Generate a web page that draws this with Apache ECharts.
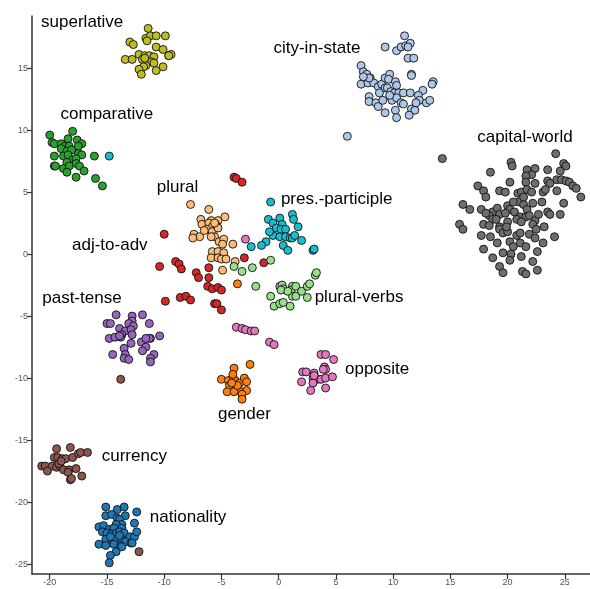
<!DOCTYPE html>
<html>
<head>
<meta charset="utf-8">
<script src="https://cdn.jsdelivr.net/npm/echarts@6/dist/echarts.min.js"></script>
<style>
  html, body { margin: 0; padding: 0; background: #fff; }
  #chart { width: 590px; height: 589px; }
</style>
</head>
<body>
<div id="chart"></div>
<script>
/* global echarts */

const xTicks = [-20, -15, -10, -5, 0, 5, 10, 15, 20, 25];
const yTicks = [-25, -20, -15, -10, -5, 0, 5, 10, 15];

const superlative = [
  [-11.4, 18.2], [-11.6, 17.4], [-11.2, 17.6], [-10.7, 17.6], [-9.9, 17.6], [-13.0, 17.1],
  [-12.7, 16.9], [-11.5, 17.2], [-10.7, 16.7], [-10.1, 16.5], [-12.2, 16.1], [-11.7, 16.0],
  [-11.3, 16.0], [-10.9, 15.9], [-9.6, 16.0], [-9.4, 16.1], [-13.4, 15.7], [-12.8, 15.7],
  [-11.9, 15.7], [-11.1, 15.5], [-10.9, 15.4], [-11.6, 15.2], [-11.8, 15.1], [-12.2, 14.9],
  [-12.0, 14.5], [-10.7, 14.8], [-10.1, 15.1], [-9.6, 16.0], [-11.7, 15.8],
];

const comparative = [
  [-20.0, 9.6], [-18.0, 9.9], [-19.8, 9.0], [-19.6, 8.9], [-19.0, 8.9], [-18.4, 9.3],
  [-17.6, 9.2], [-17.2, 8.9], [-18.7, 8.7], [-18.3, 8.7], [-19.0, 8.5], [-18.5, 8.3],
  [-18.1, 8.4], [-17.5, 8.7], [-19.6, 7.9], [-18.8, 7.9], [-18.4, 8.0], [-17.5, 8.1],
  [-17.2, 8.0], [-16.1, 7.9], [-18.0, 7.6], [-18.5, 7.4], [-17.7, 7.7], [-17.7, 7.3],
  [-19.6, 7.1], [-19.5, 7.1], [-18.8, 6.9], [-18.3, 7.1], [-17.4, 7.1], [-17.0, 6.7],
  [-18.5, 6.6], [-17.7, 6.2], [-16.0, 6.1], [-15.4, 5.5],
];

const cityInState = [
  [11.0, 17.6], [9.3, 16.7], [10.3, 16.4], [10.7, 16.7], [11.1, 16.8], [11.5, 17.0],
  [11.3, 16.7], [11.3, 15.8], [11.8, 15.8], [7.2, 15.2], [7.4, 14.7], [7.7, 14.5],
  [8.0, 14.2], [7.5, 14.0], [7.2, 13.7], [7.8, 13.8], [8.3, 13.8], [8.7, 13.5],
  [9.0, 13.7], [9.3, 14.2], [9.7, 14.5], [9.6, 14.1], [10.2, 13.9], [10.3, 13.6],
  [9.3, 13.4], [9.5, 13.4], [8.8, 13.0], [9.8, 13.1], [10.1, 13.0], [10.5, 13.0],
  [10.9, 13.0], [11.5, 13.0], [11.6, 14.5], [11.6, 14.4], [12.6, 13.2], [12.2, 12.8],
  [13.5, 13.9], [13.4, 13.7], [7.9, 12.7], [7.9, 12.3], [8.5, 12.2], [8.7, 11.9],
  [9.1, 12.4], [9.8, 12.7], [9.9, 12.4], [10.3, 12.6], [10.7, 12.2], [10.9, 12.1],
  [11.6, 11.7], [11.9, 11.6], [11.4, 11.2], [9.3, 11.4], [10.2, 11.6], [10.3, 11.0],
  [12.3, 12.4], [12.9, 12.2], [13.2, 12.4], [12.0, 12.2], [6.0, 9.5], [9.7, 12.8],
  [7.9, 14.2], [7.4, 14.3],
];

const capitalWorld = [
  [14.3, 7.7], [24.2, 8.1], [24.9, 7.3], [25.1, 7.1], [20.3, 7.4], [20.4, 7.1],
  [21.7, 6.8], [22.4, 6.9], [23.5, 6.8], [24.6, 6.7], [18.5, 6.6], [22.1, 6.4],
  [21.6, 6.3], [24.3, 6.0], [24.7, 6.0], [25.1, 5.9], [23.5, 5.9], [20.2, 5.8],
  [21.6, 5.8], [22.4, 5.7], [23.7, 5.7], [25.4, 5.8], [25.7, 5.5], [26.0, 5.3],
  [26.4, 4.6], [17.4, 5.5], [17.9, 5.1], [18.1, 4.6], [19.3, 5.1], [19.8, 5.0],
  [20.9, 4.9], [21.2, 5.0], [21.7, 5.2], [22.1, 5.0], [23.1, 5.0], [23.3, 5.2],
  [24.3, 5.1], [24.9, 4.1], [16.1, 4.0], [16.7, 3.6], [17.7, 3.6], [18.7, 3.4],
  [19.1, 3.7], [20.0, 3.9], [20.2, 3.6], [21.0, 4.2], [21.4, 4.0], [21.7, 3.6],
  [22.2, 4.1], [23.0, 4.2], [23.5, 3.4], [23.7, 3.2], [24.6, 3.2], [18.4, 3.1],
  [18.7, 2.8], [19.3, 3.2], [19.8, 3.3], [20.6, 3.4], [21.1, 3.0], [21.6, 3.0],
  [21.9, 3.1], [22.4, 2.7], [22.7, 3.2], [15.8, 2.4], [16.1, 2.0], [17.9, 2.4],
  [18.4, 2.3], [19.3, 2.2], [20.0, 2.6], [20.8, 2.8], [21.2, 2.6], [22.2, 2.4],
  [23.2, 2.2], [17.7, 1.5], [18.5, 1.4], [19.3, 2.0], [19.6, 1.7], [20.0, 1.8],
  [20.8, 1.5], [21.1, 1.7], [21.9, 1.6], [22.4, 1.3], [24.1, 1.4], [19.1, 0.9],
  [20.2, 1.0], [20.5, 0.6], [21.1, 0.9], [21.6, 0.6], [22.6, 0.2], [23.1, 0.9],
  [17.9, 0.4], [19.6, 0.1], [20.3, 0.0], [21.2, -0.2], [22.2, -0.6], [18.7, -0.3],
  [19.3, -1.0], [20.2, -0.5], [19.6, -1.5], [21.3, -1.4], [21.6, -1.6], [22.6, -1.3],
  [18.1, 3.3], [21.4, 4.6], [20.5, 4.2], [22.5, 2.0], [19.0, 2.8], [19.9, 2.2],
];

const plural = [
  [-7.7, 4.0], [-6.1, 3.6], [-6.8, 2.8], [-5.9, 2.7], [-5.3, 2.7], [-4.7, 3.0],
  [-6.7, 2.4], [-6.1, 2.5], [-5.8, 2.2], [-5.5, 2.4], [-6.3, 2.0], [-5.8, 1.8],
  [-5.3, 2.1], [-5.6, 1.4], [-7.4, 1.6], [-6.9, 1.4], [-7.5, 1.3], [-5.9, 1.4],
  [-5.2, 1.0], [-4.8, 1.2], [-4.9, 0.8], [-5.8, 0.2], [-5.3, 0.2], [-4.8, 0.1],
  [-5.9, -0.3], [-5.3, -0.3], [-5.0, -0.4], [-4.6, -0.4], [-4.0, 0.8], [-3.8, -0.6],
  [-4.9, -1.3], [-6.5, 1.9], [-5.6, 2.5],
];

const presParticiple = [
  [-0.7, 4.2], [-0.9, 2.8], [0.1, 2.9], [1.2, 3.2], [1.3, 2.8], [-0.5, 2.5],
  [0.3, 2.4], [1.7, 2.2], [-0.2, 2.1], [0.2, 2.0], [0.6, 2.0], [-0.5, 1.5],
  [0.1, 1.4], [0.6, 1.4], [1.0, 1.3], [1.2, 1.3], [1.4, 1.5], [2.0, 1.1],
  [-1.1, 1.0], [-1.5, 0.7], [-2.4, 0.6], [0.4, 0.7], [0.8, 0.3], [3.0, 0.3],
  [3.1, 0.4], [-0.8, 1.8], [-14.8, 7.9],
];

const adjToAdv = [
  [-3.9, 6.2], [-3.7, 6.1], [-3.2, 5.8], [-10.0, 1.6], [-9.0, -0.6], [-8.7, -0.8],
  [-8.5, -1.2], [-10.4, -1.0], [-7.2, -1.5], [-7.0, -1.9], [-6.1, -1.1], [-6.1, -1.9],
  [-6.2, -2.6], [-5.8, -2.8], [-5.3, -2.7], [-5.0, -2.9], [-3.0, -0.3], [-1.3, -0.7],
  [-8.6, -3.5], [-8.1, -3.4], [-7.7, -3.7], [-9.9, -3.8], [-5.6, -4.0], [-5.4, -4.0],
  [-5.0, -4.5],
];

const pluralVerbs = [
  [-0.7, -0.5], [-3.9, -1.0], [-3.2, -1.4], [-2.3, -1.1], [-2.0, -2.6], [0.1, -2.6],
  [0.3, -2.5], [0.4, -2.8], [1.2, -2.6], [1.1, -2.9], [1.5, -2.6], [1.2, -3.4],
  [1.5, -3.4], [2.0, -3.0], [2.5, -3.5], [2.5, -2.6], [2.7, -2.4], [3.2, -1.7],
  [3.3, -1.5], [-0.7, -3.4], [-0.4, -4.2], [0.1, -4.0], [0.4, -3.9], [1.0, -4.2],
  [0.2, -2.9], [0.8, -3.0],
];

const pastTense = [
  [-14.2, -4.9], [-12.8, -5.0], [-11.9, -4.9], [-15.0, -5.6], [-14.7, -5.6], [-12.8, -5.4],
  [-13.1, -5.6], [-12.7, -5.8], [-11.3, -5.6], [-13.9, -6.0], [-13.4, -6.2], [-12.9, -6.1],
  [-13.7, -6.5], [-14.8, -6.8], [-14.3, -6.7], [-13.8, -6.7], [-12.8, -6.5], [-10.4, -6.6],
  [-11.2, -6.8], [-11.3, -6.8], [-12.0, -7.1], [-12.9, -7.2], [-13.5, -7.6], [-11.6, -7.5],
  [-11.9, -7.8], [-10.9, -8.1], [-14.5, -8.1], [-13.4, -8.1], [-13.5, -8.4], [-13.1, -8.5],
  [-11.2, -8.4], [-11.2, -8.7], [-13.9, -6.6], [-11.6, -6.8],
];

const opposite = [
  [-2.9, 1.2], [-3.7, -5.9], [-3.2, -6.0], [-2.9, -6.1], [-2.4, -6.2], [-2.1, -6.2],
  [-0.8, -7.1], [-0.4, -7.3], [3.7, -8.1], [4.1, -8.1], [4.8, -8.5], [4.0, -9.1],
  [4.1, -9.3], [2.1, -9.5], [2.4, -9.5], [3.1, -9.6], [3.0, -10.0], [3.4, -10.1],
  [3.7, -10.1], [4.1, -10.0], [4.7, -9.9], [2.0, -10.3], [3.0, -10.4], [4.1, -10.8],
  [2.8, -11.0], [3.9, -9.3], [3.1, -9.8],
];

const gender = [
  [-3.6, -2.4], [-2.5, -8.9], [-3.9, -9.2], [-5.0, -10.1], [-4.4, -10.2], [-4.0, -9.9],
  [-3.8, -10.2], [-3.4, -10.4], [-3.0, -10.0], [-2.8, -10.3], [-4.3, -10.6], [-3.7, -10.7],
  [-3.3, -11.1], [-2.8, -11.0], [-4.5, -11.1], [-3.9, -11.1], [-3.2, -11.3], [-3.2, -11.7],
  [-4.0, -9.7], [-3.6, -10.6], [-4.1, -10.4],
];

const currency = [
  [-19.4, -15.7], [-18.2, -15.6], [-19.6, -16.4], [-19.3, -16.4], [-18.9, -16.5], [-18.6, -16.5],
  [-18.0, -16.4], [-17.5, -16.1], [-17.3, -16.0], [-16.7, -16.0], [-20.7, -17.1], [-20.4, -17.1],
  [-19.8, -17.1], [-19.4, -17.2], [-19.1, -17.1], [-18.8, -17.4], [-18.3, -17.4], [-18.4, -17.6],
  [-17.7, -17.3], [-20.2, -17.5], [-19.2, -16.9], [-19.0, -16.7], [-18.2, -18.2], [-18.1, -18.1],
  [-17.2, -17.9], [-13.8, -10.1], [-12.2, -24.0],
];

const nationality = [
  [-15.1, -20.4], [-14.1, -20.6], [-13.5, -20.4], [-15.1, -21.1], [-14.6, -21.0], [-13.4, -21.1],
  [-12.4, -20.8], [-14.1, -21.3], [-13.9, -21.4], [-13.7, -21.8], [-14.2, -21.8], [-15.7, -22.0],
  [-15.3, -21.9], [-14.8, -22.2], [-14.4, -22.1], [-13.7, -22.1], [-12.6, -21.7], [-15.4, -22.4],
  [-15.0, -22.5], [-14.6, -22.6], [-14.2, -22.5], [-13.9, -22.4], [-13.5, -22.5], [-13.0, -22.8],
  [-12.6, -22.8], [-12.4, -22.4], [-15.1, -23.0], [-14.5, -23.2], [-14.2, -23.0], [-13.7, -23.0],
  [-13.4, -23.2], [-12.9, -23.3], [-15.7, -23.4], [-15.1, -23.5], [-14.4, -23.4], [-13.8, -23.5],
  [-12.8, -23.3], [-14.2, -24.0], [-14.7, -24.3], [-14.8, -24.9], [-13.7, -23.6], [-13.9, -22.7],
  [-14.7, -22.8],
];

const groupNames = [
  'superlative', 'comparative', 'city-in-state', 'capital-world', 'plural', 'pres.-participle',
  'adj-to-adv', 'plural-verbs', 'past-tense', 'opposite', 'gender', 'currency', 'nationality',
];
const groupData = [
  superlative, comparative, cityInState, capitalWorld, plural, presParticiple,
  adjToAdv, pluralVerbs, pastTense, opposite, gender, currency, nationality,
];
const groupColors = [
  '#bcbd22', '#2ca02c', '#aec7e8', '#6e6e6e', '#ffbb78', '#17becf',
  '#d62728', '#98df8a', '#9467bd', '#e377c2', '#ff7f0e', '#8c564b', '#1f77b4',
];

// where each group name is written (x, y of the text's left-middle point)
const labelNames = groupNames;
const labelX = [-20.8, -19.1, -0.5, 17.3, -10.7, 0.15, -18.1, 3.1, -20.7, 5.75, -5.35, -15.5, -11.3];
const labelY = [18.7, 11.3, 16.6, 9.4, 5.4, 4.4, 0.7, -3.5, -3.6, -9.3, -12.9, -16.3, -21.2];

const chart = echarts.init(document.getElementById('chart'));

const series = groupData.map((pts, i) => ({
  name: groupNames[i],
  type: 'scatter',
  data: pts,
  symbolSize: 8,
  itemStyle: {
    color: groupColors[i],
    borderColor: '#111',
    borderWidth: 0.9,
    opacity: 1,
  },
  z: 3,
}));

series.push({
  name: 'labels',
  type: 'scatter',
  symbol: 'circle',
  symbolSize: 1,
  silent: true,
  z: 5,
  itemStyle: { color: 'rgba(0,0,0,0)' },
  data: labelNames.map((n, i) => ({ name: n, value: [labelX[i], labelY[i]] })),
  label: {
    show: true,
    position: 'right',
    distance: 0,
    formatter: (p) => p.name,
    fontFamily: 'Liberation Sans, Arial, sans-serif',
    fontSize: 17,
    color: '#000',
    opacity: 1,
  },
  labelLayout: { hideOverlap: false },
});

const axisCommon = {
  type: 'value',
  splitLine: { show: false },
  axisLine: { show: true, onZero: false, lineStyle: { color: '#333', width: 1.5 } },
  axisTick: { show: true, inside: false, length: 5, lineStyle: { color: '#333', width: 1.2 } },
  axisLabel: {
    color: '#555',
    fontSize: 9,
    fontFamily: 'Liberation Sans, Arial, sans-serif',
    margin: 4,
  },
};

chart.setOption({
  animation: false,
  backgroundColor: '#fff',
  grid: { left: 32, right: 0, top: 16, bottom: 15 },
  xAxis: {
    ...axisCommon,
    min: -21.55,
    max: 27.2,
    axisTick: { ...axisCommon.axisTick, customValues: xTicks },
    axisLabel: { ...axisCommon.axisLabel, customValues: xTicks },
  },
  yAxis: {
    ...axisCommon,
    min: -25.8,
    max: 19.2,
    axisTick: { ...axisCommon.axisTick, customValues: yTicks },
    axisLabel: { ...axisCommon.axisLabel, customValues: yTicks },
  },
  series,
});
</script>
</body>
</html>
